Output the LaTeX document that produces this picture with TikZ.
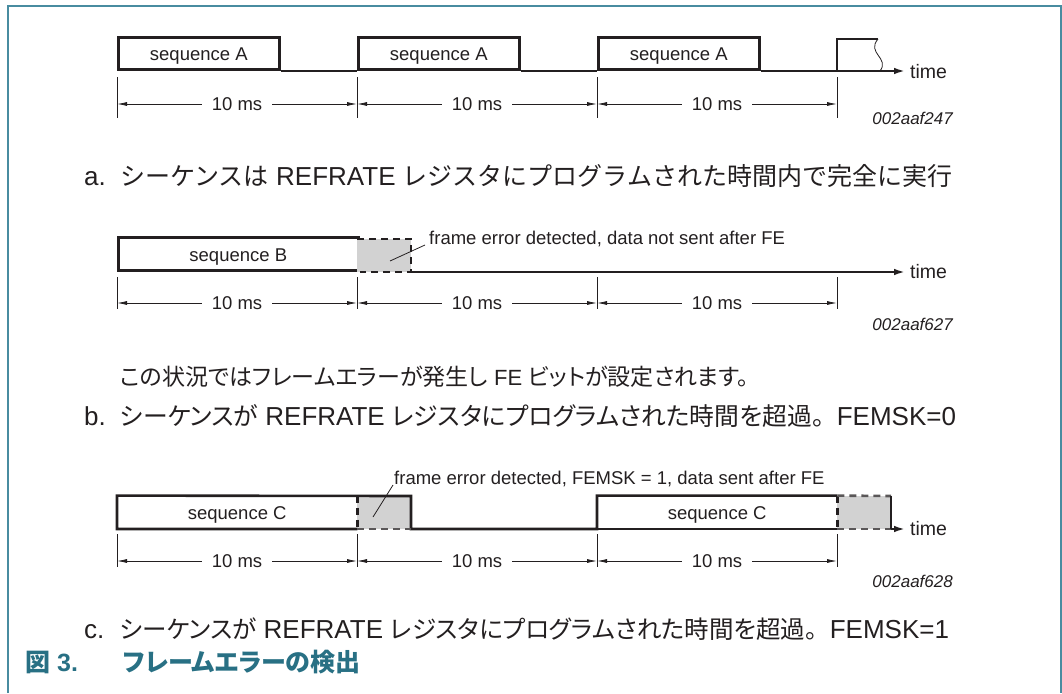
\documentclass[tikz,border=0pt]{standalone}
\usepackage{fontspec}
\setmainfont{Liberation Sans}
\newfontfamily\cjk[RawFeature=+palt]{Noto Sans CJK JP}
\newfontfamily\cjkfw{Noto Sans CJK JP}
\newcommand\jp[1]{{\cjk\fontsize{24.5}{28}\selectfont #1}}
\newcommand\jpb[1]{{\cjk\fontsize{24.8}{28}\selectfont #1}}
\newcommand\jpfw[1]{{\cjkfw\fontsize{25}{28}\selectfont #1}}
\usetikzlibrary{arrows.meta}
\definecolor{titlec}{RGB}{40,112,132}
\definecolor{framec}{RGB}{72,140,160}
\definecolor{fegray}{RGB}{210,210,210}
\definecolor{ink}{RGB}{35,31,32}
\begin{document}
\begin{tikzpicture}[x=1pt,y=-1pt,
  every node/.style={inner sep=0pt, text=ink},
  boxline/.style={draw=ink, line width=2.6pt},
  seqtext/.style={font=\fontsize{18.5}{20}\selectfont, text depth=9pt},
  baseln/.style={draw=ink, line width=2.6pt},
  timearrow/.style={draw=ink, line width=2.6pt, -{Latex[length=12pt,width=6.5pt]}},
  ticksty/.style={draw=ink, line width=0.8pt},
  dimsty/.style={draw=ink, line width=0.8pt, {Latex[length=10pt,width=4pt]}-{Latex[length=10pt,width=4pt]}},
  dimlabel/.style={fill=white, inner xsep=10pt, inner ysep=2pt, font=\fontsize{18.5}{20}\selectfont},
  timelbl/.style={anchor=west, font=\fontsize{19.5}{22}\selectfont},
  figid/.style={anchor=east, font=\fontsize{17}{18}\selectfont\itshape},
  fedash/.style={draw=ink, line width=2.6pt, dash pattern=on 7pt off 5pt},
  leaderln/.style={draw=ink, line width=0.8pt},
  felbl/.style={anchor=west, font=\fontsize{18.5}{20}\selectfont},
  captxt/.style={anchor=base west, font=\fontsize{26}{30}\selectfont},
  notetxt/.style={anchor=base west, font=\fontsize{22}{26}\selectfont},
  figtitle/.style={anchor=base west, text=titlec, font=\fontsize{25}{30}\selectfont\bfseries}
]
\useasboundingbox (0,0) rectangle (1062,693);
% frame
\draw[framec, line width=1.5pt] (8,693) -- (8,6) -- (1061,6) -- (1061,693);

% ---------- timeline a ----------
\node[boxline, seqtext, minimum width=161pt, minimum height=32pt, text height=23pt, anchor=south west] (A1) at (117,71) {sequence A};
\node[boxline, seqtext, minimum width=161pt, minimum height=32pt, text height=23pt, anchor=south west] (A2) at (357,71) {sequence A};
\node[boxline, seqtext, minimum width=161pt, minimum height=32pt, text height=23pt, anchor=south west] (A3) at (597,71) {sequence A};
\coordinate (A4bl) at (837,71);
\coordinate (A4tl) at (837,39);
\coordinate (A4tr) at (878,39);
\coordinate (A4br) at (880,71);
\coordinate (Aend) at (906,71);
\draw[baseln] (A1.south east) -- (A2.south west) (A2.south east) -- (A3.south west);
\draw[baseln] (A3.south east) -- (A4bl) -- (A4tl) -- (A4tr);
\draw[ink, line width=0.8pt] (A4tr) .. controls (866,53) and (890,58) .. (A4br);
\draw[timearrow] (A4bl) -- (Aend);
\node[timelbl] (tA) at (910,72) {time};
% dimensions a
\foreach \i/\x in {0/117,1/357,2/597,3/837}{
  \coordinate (da\i) at (\x,104);
  \draw[ticksty] (\x,77) -- (\x,118);
}
\foreach \i/\j in {0/1,1/2,2/3}{
  \draw[dimsty] (da\i) -- (da\j) node[midway, dimlabel] {10 ms};
}
\node[figid] (idA) at (953,118) {002aaf247};
\node[captxt] (capA) at (84,185) {a.};
\node[captxt] (capAt) at (120,185) {\jpfw{シーケンスは} REFRATE \jpfw{レジスタにプログラムされた時間内で完全に実行}};

% ---------- timeline b ----------
\node[boxline, seqtext, minimum width=240pt, minimum height=33pt, text height=24pt, anchor=south west] (B1) at (117,272) {sequence B};
\coordinate (Bfe1) at (357,239);
\coordinate (Bfe2) at (411,239);
\coordinate (Bfe3) at (411,272);
\fill[fegray] (Bfe1) rectangle (Bfe3);
\draw[fedash] (Bfe1) -- (Bfe2) -- (Bfe3) -- (B1.south east);
\coordinate (Bend) at (906,272);
\draw[timearrow] (Bfe3) -- (Bend);
\node[timelbl] (tB) at (910,272) {time};
\coordinate (Bl0) at (390,261);
\coordinate (Bl1) at (425,245);
\draw[leaderln] (Bl0) -- (Bl1);
\node[felbl] (feB) at (429,239) {frame error detected, data not sent after FE};
\foreach \i/\x in {0/117,1/357,2/597,3/837}{
  \coordinate (db\i) at (\x,303);
  \draw[ticksty] (\x,277) -- (\x,309);
}
\foreach \i/\j in {0/1,1/2,2/3}{
  \draw[dimsty] (db\i) -- (db\j) node[midway, dimlabel] {10 ms};
}
\node[figid] (idB) at (953,324) {002aaf627};
\node[notetxt] (noteB) at (120,385) {{\cjk\fontsize{23}{26}\selectfont この状況ではフレームエラーが発生し} FE {\cjk\fontsize{23}{26}\selectfont ビットが設定されます。}};
\node[captxt] (capB) at (84,425) {b.};
\node[captxt] (capBt) at (120,425) {\jpb{シーケンスが} REFRATE \jpb{レジスタにプログラムされた時間を超過{\cjkfw 。}}FEMSK=0};

% ---------- timeline c ----------
\node[seqtext, minimum width=240pt, minimum height=33pt, text height=24pt, anchor=south west] (C1) at (117,529) {sequence C};
\node[seqtext, minimum width=240pt, minimum height=33pt, text height=24pt, anchor=south west] (C2) at (597,529) {sequence C};
\fill[fegray] (C1.north east) rectangle (411,529);
\fill[fegray] (C2.north east) rectangle (891,529);
\draw[baseln] (C1.south east) -- (C1.south west) -- (C1.north west) -- (411,496) -- (411,529) -- (C2.south west) -- (C2.north west) -- (C2.north east);
\draw[fedash] (C1.north east) -- (C1.south east);
\draw[fedash, draw=ink!75] (C1.south east) -- (411,529);
\draw[fedash] (C2.north east) -- (C2.south east);
\draw[fedash, draw=ink!75] (C2.south east) -- (891,529);
\draw[fedash, draw=ink!75] (C2.north east) -- (891,496);
\draw[baseln] (891,496) -- (891,529);
\draw[baseln] (C2.south west) -- (C2.south east);
\coordinate (Cend) at (906,529);
\draw[timearrow] (891,529) -- (Cend);
\node[timelbl] (tC) at (910,529) {time};
\coordinate (Cl0) at (373,517);
\coordinate (Cl1) at (393,485);
\draw[leaderln] (Cl0) -- (Cl1);
\node[felbl] (feC) at (394,479) {frame error detected, FEMSK = 1, data sent after FE};
\foreach \i/\x in {0/117,1/357,2/597,3/837}{
  \coordinate (dc\i) at (\x,561);
  \draw[ticksty] (\x,534) -- (\x,567);
}
\foreach \i/\j in {0/1,1/2,2/3}{
  \draw[dimsty] (dc\i) -- (dc\j) node[midway, dimlabel] {10 ms};
}
\node[figid] (idC) at (953,581) {002aaf628};
\node[captxt] (capC) at (84,638) {c.};
\node[captxt] (capCt) at (120,638) {\jp{シーケンスが} REFRATE \jp{レジスタにプログラムされた時間を超過{\cjkfw 。}}FEMSK=1};

% ---------- title ----------
\node[figtitle] (fig) at (25,671) {{\cjk 図} 3.};
\node[figtitle] (figt) at (123,671) {\cjk フレームエラーの検出};
\end{tikzpicture}
\end{document}
